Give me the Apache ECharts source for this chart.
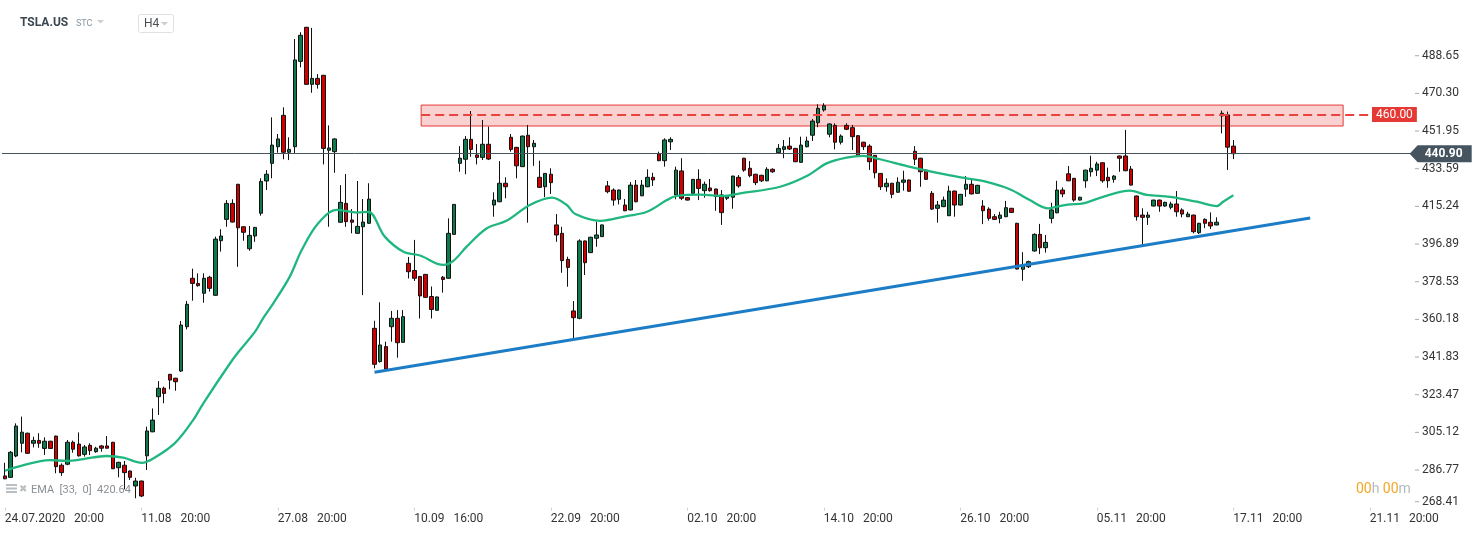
<!DOCTYPE html>
<html><head><meta charset="utf-8">
<script src="https://cdn.jsdelivr.net/npm/echarts@6/dist/echarts.min.js"></script>
<style>html,body{margin:0;padding:0;background:#fff}#c{width:1482px;height:534px}</style>
</head><body><div id="c"></div>
<script>
// ---- DATA (H4 candles: open, close, low, high) ----
const ohlc = [
[283.9,282.5,282.3,290.3],[283.2,295.4,282.9,296.0],[293.6,308.2,293.0,309.5],[299.8,305.2,295.4,312.8],[304.7,294.9,294.7,305.0],
[299.8,301.2,297.8,303.0],[301.2,299.8,297.6,304.7],[297.3,300.8,294.1,302.7],[300.8,297.3,297.0,301.0],[303.3,288.4,285.2,303.5],
[289.1,285.5,283.9,290.0],[289.6,300.3,289.1,301.4],[300.3,296.9,295.2,301.1],[299.4,293.7,293.3,305.1],[294.4,298.0,293.3,299.0],
[298.8,296.2,294.1,299.8],[295.7,297.4,295.2,298.1],[298.5,297.4,295.7,299.0],[298.5,297.4,297.2,303.3],[300.3,287.4,287.2,300.5],
[287.9,290.5,283.2,290.8],[289.1,285.5,277.4,291.2],[286.3,283.2,281.9,286.5],[279.0,281.4,273.0,283.0],[281.4,274.1,273.6,281.6],
[293.7,305.8,286.8,307.9],[305.4,311.1,305.2,316.8],[322.5,326.6,313.6,330.1],[326.6,324.1,319.3,327.4],[333.4,330.6,326.1,333.6],
[331.5,329.8,325.4,331.7],[335.0,357.4,334.5,359.4],[356.6,367.5,355.3,369.1],[380.2,377.7,369.3,384.9],[377.7,376.6,376.1,382.6],
[372.9,380.2,368.3,382.6],[380.7,375.3,373.7,381.4],[371.9,399.3,371.7,400.5],[398.5,400.8,393.2,404.1],[408.9,416.7,405.3,418.3],
[416.7,407.6,407.4,418.7],[426.0,404.8,385.8,426.2],[405.3,402.6,398.5,405.5],[394.6,401.1,393.6,405.7],[400.8,405.0,398.0,405.2],
[411.9,427.4,410.7,428.9],[427.6,430.9,423.2,432.9],[436.2,445.1,428.9,458.6],[444.3,448.1,441.4,450.5],[459.6,441.6,438.2,463.5],
[441.6,443.0,437.8,448.9],[444.3,486.6,441.1,496.8],[485.9,498.6,483.0,500.1],[502.5,474.7,474.5,502.7],[474.7,477.6,470.6,502.2],
[477.6,474.7,472.6,479.7],[479.1,443.5,435.7,479.3],[442.6,443.7,405.3,454.7],[441.9,448.1,431.6,448.4],[407.5,417.2,407.3,425.6],
[416.7,407.8,405.3,431.0],[408.6,407.5,402.1,413.9],[402.1,405.5,401.9,427.6],[405.3,407.6,372.0,418.8],[407.0,418.8,406.8,426.5],
[355.8,338.3,336.3,359.5],[339.6,347.7,339.1,368.5],[346.9,336.0,335.8,349.3],[356.6,360.7,349.3,364.3],[360.7,348.8,341.5,364.7],
[349.0,361.5,348.8,364.7],[387.5,383.4,380.1,390.6],[384.0,380.2,378.9,398.9],[381.1,371.6,360.6,381.3],[382.1,370.9,370.7,382.3],
[371.3,365.0,360.6,376.2],[364.6,371.1,364.4,371.3],[380.7,379.6,373.2,381.3],[380.2,402.1,380.0,409.4],[401.6,416.2,401.4,416.4],
[436.2,438.7,432.1,444.6],[438.2,447.9,430.9,449.5],[447.9,443.0,439.4,461.7],[440.3,439.1,435.7,445.6],[439.1,445.5,437.8,457.3],
[445.5,438.3,437.8,454.1],[415.9,418.3,410.2,422.1],[417.5,426.5,417.3,437.3],[426.5,424.8,419.2,429.4],[448.9,443.0,441.9,450.5],
[444.0,435.0,428.9,444.2],[434.6,449.5,434.4,449.7],[449.9,444.3,407.3,454.9],[444.3,446.0,435.0,447.6],[429.4,424.5,424.3,437.5],
[424.8,431.3,419.7,431.5],[430.9,426.8,421.3,433.8],[406.2,401.3,398.0,411.5],[402.1,388.8,382.9,405.3],[389.4,385.5,376.1,390.7],
[364.3,361.0,350.9,369.1],[360.7,398.4,360.2,399.2],[398.4,387.8,381.8,398.6],[392.7,400.2,392.5,400.4],[399.7,401.3,395.6,407.8],
[400.5,406.2,400.3,406.4],[425.2,422.4,421.6,427.6],[423.2,418.3,415.6,424.0],[418.7,423.2,416.2,423.4],[415.9,413.1,412.9,418.8],
[413.5,425.6,413.3,427.1],[425.6,417.5,417.2,428.1],[420.4,425.6,420.2,428.1],[424.8,429.4,424.6,433.3],[429.4,428.1,425.2,431.6],
[440.8,437.5,437.3,441.9],[437.5,447.6,434.6,448.4],[446.7,447.9,442.7,448.9],[420.8,432.9,418.7,434.6],[432.5,419.2,418.3,438.7],
[419.5,418.3,418.1,419.7],[421.6,428.4,421.4,428.6],[428.4,424.0,418.3,433.3],[422.9,426.0,419.5,427.3],[424.2,422.9,422.4,428.6],
[423.7,420.0,413.1,423.9],[420.8,412.2,406.2,423.2],[419.2,420.3,418.3,420.5],[419.7,430.0,414.1,430.2],[429.4,425.2,424.3,430.5],
[438.7,432.9,432.1,438.9],[433.8,430.2,429.4,437.3],[430.9,426.8,425.6,431.1],[430.4,427.7,427.1,430.6],[427.7,433.3,427.5,434.3],
[433.3,432.1,431.6,433.8],[441.4,443.5,440.8,445.6],[443.0,444.3,438.7,447.6],[444.6,443.2,442.7,448.9],[443.5,437.0,436.8,443.7],
[436.7,445.1,436.5,449.2],[444.3,447.1,444.0,449.2],[449.9,456.8,447.1,457.8],[456.0,463.0,453.8,465.0],[462.2,464.3,461.4,465.5],
[450.4,455.4,448.9,455.7],[454.7,446.5,443.0,455.7],[446.5,449.5,445.4,450.3],[454.7,452.8,452.4,455.7],[453.6,449.2,442.7,454.9],
[449.7,439.9,439.7,449.9],[446.5,444.3,442.7,446.7],[444.6,437.0,433.0,445.5],[440.1,431.6,428.9,440.3],[431.3,424.8,423.2,431.5],
[424.8,426.5,422.4,428.9],[426.5,421.1,419.2,426.7],[422.1,427.0,421.9,429.4],[427.0,428.1,422.9,432.6],[428.1,422.6,422.4,428.3],
[442.1,438.2,435.4,444.6],[438.7,432.1,424.8,438.9],[432.9,428.4,428.2,433.1],[421.6,413.9,413.5,422.7],[414.3,415.9,407.3,417.9],
[415.1,418.3,414.9,420.0],[410.7,422.7,410.5,425.3],[422.7,415.9,410.2,422.9],[415.9,421.1,415.7,421.3],[423.6,426.0,419.9,430.0],
[426.0,421.3,421.1,428.4],[421.6,425.5,421.4,425.7],[415.4,413.1,406.6,418.3],[413.9,409.4,408.3,414.8],[410.2,408.9,408.6,411.5],
[409.4,411.0,407.0,412.6],[410.2,414.6,410.0,417.9],[414.3,412.3,412.0,414.5],[407.0,384.7,384.5,407.2],[384.6,386.2,379.0,392.9],
[385.8,388.3,385.2,388.8],[393.5,401.6,393.2,402.1],[401.6,395.1,392.0,406.7],[395.1,397.7,392.7,401.3],[409.4,413.5,407.0,417.0],
[412.1,423.2,411.9,427.7],[423.2,421.3,419.7,424.5],[431.1,427.7,427.5,434.9],[428.9,418.3,417.5,429.1],[418.3,419.7,418.1,419.9],
[427.7,432.9,424.3,433.1],[432.1,433.8,429.7,439.9],[432.9,435.9,430.0,437.0],[436.5,427.7,426.8,436.7],[429.4,427.7,424.3,434.1],
[428.4,430.0,426.8,430.5],[439.8,438.7,432.1,440.0],[439.8,432.6,432.4,452.5],[433.4,425.6,425.4,434.9],[420.3,410.2,408.3,420.5],
[411.0,409.9,396.4,414.3],[409.9,411.0,406.2,412.6],[415.4,418.3,415.2,418.5],[418.3,415.4,412.6,418.5],[415.4,417.2,415.1,417.5],
[414.8,416.4,413.8,417.5],[416.4,412.6,410.2,422.7],[413.5,411.5,409.9,414.3],[410.2,411.5,410.0,412.6],[411.0,402.9,402.1,411.2],
[402.4,407.0,401.8,407.2],[408.9,407.0,404.6,409.4],[407.5,405.7,404.2,412.3],[406.2,407.5,406.0,409.9],[459.3,460.6,450.8,461.9],
[459.8,444.1,433.0,461.4],[444.6,440.9,438.3,447.6]
];
// EMA(33): [bar position, value]
const emaPoints = [
[0,286.4],[2.7,288.7],[7.9,291.6],[10.9,291.2],[13.8,292.1],[17.9,293.6],[20.8,292.8],[24.1,290.3],[26.1,292.4],
[29.9,299.9],[33.1,311.1],[34.9,319.3],[39.6,338.8],[41.1,344.4],[44.0,354.2],[45.4,360.7],[47.2,368.0],[50.1,381.0],
[52.2,394.0],[55.1,407.0],[58.4,413.5],[61.9,412.2],[63.9,412.6],[66.8,400.5],[70.1,393.1],[73.0,391.3],[77.1,386.7],
[78.9,388.8],[81.2,395.6],[84.7,404.5],[88.2,408.2],[92.3,415.9],[96.2,419.5],[98.8,415.9],[100.3,411.5],[104.7,408.2],
[109.3,410.5],[112.9,412.6],[116.4,418.3],[118.1,420.3],[122.2,421.0],[126.6,420.3],[129.3,421.6],[136.3,424.8],
[141.0,430.0],[144.5,436.2],[148.0,439.0],[150.9,439.8],[153.9,438.2],[158.6,434.9],[164.4,431.3],[169.1,428.9],
[172.3,427.4],[176.7,423.6],[180.2,418.3],[183.5,414.3],[185.0,415.1],[187.3,416.2],[189.6,416.7],[193.1,419.9],
[197.8,422.9],[200.8,420.8],[204.9,419.9],[209.6,417.5],[213.1,415.4],[214.2,417.5],[216,420.64]
];
const trendLine = [[65.0,334.4],[229.5,409.6]];
const zoneFrom = [73.2, 464.6];
const zoneTo = [235.3, 454.4];
const resistance = 460.00;
const resistanceEnd = 240.2;
const lastPrice = 440.90;
const emaLast = 420.64;
const yTicks = [268.41,286.77,305.12,323.47,341.83,360.18,378.53,396.89,415.24,433.59,451.95,470.30,488.65];
const xTickLabels = ['24.07.2020   20:00','11.08   20:00','27.08   20:00','10.09   16:00','22.09   20:00','02.10   20:00',
  '14.10   20:00','26.10   20:00','05.11   20:00','17.11   20:00','21.11   20:00'];
const barsPerLabel = 24;
const totalSlots = 248;

const categories = [];
for (let i = 0; i < totalSlots; i++) categories.push('b' + i);

const FONT = 'Roboto, "Noto Sans", sans-serif';
const chart = echarts.init(document.getElementById('c'), null, {renderer: 'canvas'});
chart.setOption({
  animation: false,
  backgroundColor: '#ffffff',
  grid: {left: 2, right: 69.5, top: 0, bottom: 26.3, containLabel: false},
  xAxis: [{
    type: 'category', data: categories, boundaryGap: true,
    axisLine: {show: false},
    axisTick: {show: true, alignWithLabel: true, interval: barsPerLabel - 1, length: 3, lineStyle: {color: '#cfd3d6'}},
    axisLabel: {interval: barsPerLabel - 1, align: 'left', margin: 5, color: '#333', fontSize: 12, fontFamily: FONT,
      formatter: (v, i) => (i % barsPerLabel === 0 ? (xTickLabels[i / barsPerLabel] || '') : '')},
    splitLine: {show: false}
  }, {
    type: 'value', min: -0.5, max: totalSlots - 0.5, show: false
  }],
  yAxis: {
    type: 'value', position: 'right', min: 268.41, max: 515.8,
    axisLine: {show: false}, splitLine: {show: false},
    axisTick: {show: false},
    axisLabel: {customValues: yTicks, color: '#333', fontSize: 12, fontFamily: FONT, margin: 2.5,
      verticalAlignMinLabel: 'bottom', formatter: v => '{d|}{v|' + Number(v).toFixed(2) + '}',
      rich: {
        d: {width: 4, height: 1, backgroundColor: '#a3aaaf'},
        v: {color: '#333', fontSize: 12, fontFamily: FONT, padding: [0, 0, 0, 3]}
      }}
  },
  series: [{
    name: 'zone', type: 'line', xAxisIndex: 1, data: [], z: 1,
    markArea: {silent: true, itemStyle: {color: 'rgba(229,57,53,0.23)', borderColor: '#e53935', borderWidth: 1},
      data: [[{coord: zoneFrom}, {coord: zoneTo}]]},
    markLine: {silent: true, symbol: ['none', 'none'],
      lineStyle: {color: '#e8433f', width: 2, type: [9, 5]},
      label: {show: true, position: 'end', formatter: resistance.toFixed(2), color: '#fff', backgroundColor: '#e53935',
        padding: [2, 4, 1, 4], fontSize: 12, fontFamily: FONT, distance: 1},
      data: [[{coord: [zoneFrom[0], resistance]}, {coord: [resistanceEnd, resistance]}]]}
  }, {
    name: 'TSLA.US', type: 'candlestick', xAxisIndex: 0, data: ohlc, barWidth: 4, z: 2,
    itemStyle: {color: '#0e7a4b', color0: '#d00000', borderColor: '#111', borderColor0: '#111', borderColorDoji: '#111', borderWidth: 1},
    markLine: {silent: true, symbol: ['none', 'none'], label: {show: false},
      lineStyle: {color: '#45545e', width: 1, type: 'solid'}, data: [{yAxis: lastPrice}]}
  }, {
    name: 'EMA', type: 'line', xAxisIndex: 1, data: emaPoints, smooth: 0.35, showSymbol: false, z: 3,
    lineStyle: {color: '#1fb77f', width: 2.3}
  }, {
    name: 'trend', type: 'line', xAxisIndex: 1, data: trendLine, showSymbol: false, z: 4,
    lineStyle: {color: '#1c7dc6', width: 3},
    markPoint: {silent: true, symbol: 'path://M0,8.5L8,0H62V17H8Z', symbolSize: [62, 17], symbolKeepAspect: false,
      symbolOffset: ['50%', 0], itemStyle: {color: '#45545e'},
      label: {show: true, position: 'inside', offset: [3, 0], formatter: lastPrice.toFixed(2), color: '#fff', fontWeight: 'bold', fontSize: 12, fontFamily: FONT},
      data: [{coord: [totalSlots - 1, lastPrice]}]}
  }],
  graphic: [
    {type: 'text', x: 20, y: 23, style: {text: 'TSLA.US', fill: '#3b4751', font: 'bold 12px ' + FONT, verticalAlign: 'middle'}},
    {type: 'text', x: 76, y: 24, style: {text: 'STC', fill: '#8795a1', font: '9px ' + FONT, verticalAlign: 'middle'}},
    {type: 'polygon', shape: {points: [[97, 20], [104, 20], [100.5, 23.5]]}, style: {fill: '#c9ced2'}},
    {type: 'rect', shape: {x: 138.5, y: 14.5, width: 35, height: 18, r: 2}, style: {fill: '#fff', stroke: '#dfe2e5', lineWidth: 1}},
    {type: 'text', x: 144, y: 24, style: {text: 'H4', fill: '#4a4f54', font: '12px ' + FONT, verticalAlign: 'middle'}},
    {type: 'polygon', shape: {points: [[161, 22], [168, 22], [164.5, 25.5]]}, style: {fill: '#c9ced2'}},
    {type: 'rect', shape: {x: 6, y: 484, width: 11, height: 2}, style: {fill: '#b9bec2'}},
    {type: 'rect', shape: {x: 6, y: 487.5, width: 11, height: 2}, style: {fill: '#b9bec2'}},
    {type: 'rect', shape: {x: 6, y: 491, width: 11, height: 2}, style: {fill: '#b9bec2'}},
    {type: 'text', x: 19, y: 489, style: {text: '✖', fill: '#b9bec2', font: '10px "DejaVu Sans"', verticalAlign: 'middle'}},
    {type: 'text', x: 31, y: 490, style: {text: 'EMA  [33,  0]  ' + emaLast.toFixed(2), fill: '#8a8f94', font: '11px ' + FONT, verticalAlign: 'middle'}},
    {type: 'text', x: 1356, y: 489, style: {
      text: '{o|00}{g|h} {o|00}{g|m}', verticalAlign: 'middle',
      rich: {o: {fill: '#f5a623', fontSize: 14, fontFamily: FONT}, g: {fill: '#b3bac0', fontSize: 14, fontFamily: FONT}}}}
  ]
});
</script>
</body></html>
